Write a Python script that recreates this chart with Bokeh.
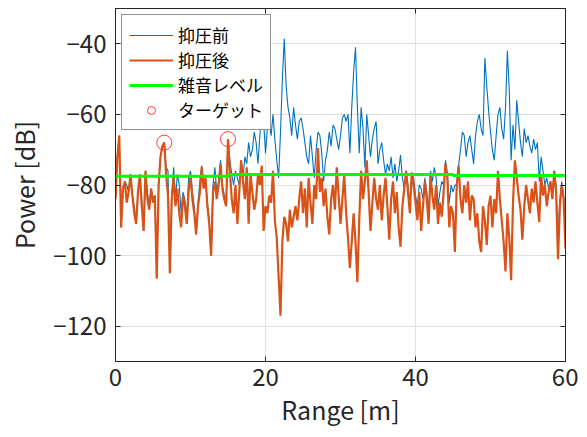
from bokeh.plotting import figure
from bokeh.models import Range1d, LinearAxis, FixedTicker, Legend, LegendItem
from bokeh.embed import file_html
from bokeh.resources import INLINE

# ---------------- data ----------------
RANGE_STEP = 0.25  # m
power_before = [  # 抑圧前 [dB]
    -84, -72, -66, -92, -81, -79, -80, -82, -77, -83,
    -86, -91, -82, -77, -84, -93, -76, -82, -86, -81,
    -84, -83, -106.5, -80, -72, -69, -68, -75, -76, -105,
    -83, -75, -84, -77, -80, -88, -82, -84, -89, -78,
    -76, -82, -86, -94, -85, -79, -74.5, -80, -78, -85,
    -90, -100, -80, -75, -82, -79, -73, -80, -83, -85,
    -67, -73, -77, -80, -76, -78, -80, -73,
    -78, -72, -74, -68, -72, -70, -65, -68, -74, -66,
    -59, -62, -71, -64, -62, -66, -60, -67, -73, -78,
    -65, -50, -38.5, -52, -58, -61, -66, -58, -63, -67,
    -62, -61, -64, -68, -72, -74, -66, -72, -78, -70,
    -65, -66, -71, -79, -73, -70, -65, -69, -63, -64,
    -67, -70, -66, -61, -60, -62, -60, -71, -58, -48,
    -41, -58, -71, -58, -64, -75, -60, -66, -72, -67,
    -64, -62, -74, -70, -68, -73, -77, -74, -76, -72,
    -78, -74, -79, -76, -71.5, -78, -81,
    -76, -80, -86, -76.5, -78, -83, -86, -80, -81, -84,
    -78, -82, -88, -76, -79, -75, -78, -86, -82, -79,
    -80, -73, -77, -85, -80, -82,
    -80, -80, -74.5, -70, -65, -66, -72, -68, -66, -70,
    -74, -66, -62, -60, -64, -66, -44, -52, -59, -65,
    -70, -73, -66, -60, -58, -64, -67, -58, -42, -53,
    -73, -63, -70, -56, -62, -68, -72, -64, -68, -66,
    -69, -71, -67, -70, -68, -79,
    -72, -76, -80, -78, -81, -79, -82, -76, -80, -95,
    -84, -79, -83, -96,
]
power_after = [  # 抑圧後 [dB]
    -84, -72, -66, -92, -81, -79, -85, -82, -77, -83,
    -88, -91, -82, -77, -86, -93, -76, -84, -87, -81,
    -85, -83, -106.5, -80, -72, -69, -68, -77, -83, -105,
    -84, -78, -86, -81, -88, -92, -83, -86, -91, -82,
    -77, -84, -88, -94, -86, -82, -75, -81, -78, -86,
    -91, -100, -82, -79, -84, -80, -74, -81, -84, -86,
    -67, -76, -84, -88, -80, -91, -82, -73, -79, -84,
    -75, -91, -77, -82, -87, -84, -77, -80, -74.5, -93,
    -86, -88, -83, -85, -76, -90, -95, -106, -117, -96,
    -89, -91, -96, -87, -92, -89, -86, -90, -84, -79,
    -88, -81, -92, -78, -85, -91, -80, -84, -69.5, -82,
    -78, -86, -81, -89, -94, -84, -80, -87, -75, -83,
    -91, -84, -77, -88, -95, -103.5, -96, -88, -96, -107.5,
    -90, -76, -84, -79, -73, -82, -93, -85, -78, -84,
    -87, -80, -90, -83, -78, -86, -95.5, -84, -79, -88,
    -82, -92, -97.5, -86, -81, -76, -82, -88, -76.5, -80,
    -85, -90, -82, -93, -86, -79, -84, -91, -77, -83,
    -87, -80, -91, -85, -89, -82, -74, -78, -92, -86,
    -88, -99, -80, -74.5, -84, -88, -80, -85, -79, -90,
    -83, -84, -92, -88, -96, -99, -86, -90, -97, -86,
    -83, -92, -84, -88, -76, -84, -90, -96, -104.5, -88,
    -95, -107, -85, -73, -78, -83, -87, -95.5, -86, -80,
    -84, -88, -81, -85, -79, -85, -90.5, -77, -83, -80,
    -86, -82, -79, -84, -76, -82, -101, -86, -80, -84,
    -98,
]
range_m = [i * RANGE_STEP for i in range(len(power_after))]

noise_edges = [0, 15, 45, 60]          # m
noise_values = [-77.5, -77.0, -77.3]   # dB

target_range = [6.5, 15.0]
target_power = [-68.0, -67.0]

x_ticks = [0, 20, 40, 60]
y_ticks = [-120, -100, -80, -60, -40]

labels = ["抑圧前", "抑圧後", "雑音レベル", "ターゲット"]

# ---------------- figure ----------------
FONT = "Noto Sans CJK JP"
p = figure(width=578, height=429, output_backend="svg", toolbar_location=None,
           x_range=Range1d(0, 60), y_range=Range1d(-130, -30),
           min_border_left=115, min_border_right=13, min_border_top=8,
           min_border_bottom=68, background_fill_color="white",
           border_fill_color="white")
p.outline_line_color = "#262626"
p.outline_line_width = 1

noise_x, noise_y = [], []
for k, v in enumerate(noise_values):
    noise_x += [noise_edges[k], noise_edges[k + 1]]
    noise_y += [v, v]

r_before = p.line(range_m, power_before, line_color="#0072BD", line_width=1.1)
r_after = p.line(range_m, power_after, line_color="#D95319", line_width=2.2)
r_noise = p.line(noise_x, noise_y, line_color="#00FF00", line_width=3)
r_target = p.scatter(target_range, target_power, marker="circle", size=15,
                     fill_color=None, line_color="#FF3A3A", line_width=1)

for ax in (p.xaxis[0], p.yaxis[0]):
    ax.axis_line_color = "#262626"
    ax.major_tick_line_color = "#262626"
    ax.major_tick_in = 5
    ax.major_tick_out = 0
    ax.minor_tick_line_color = None
    ax.major_label_text_font = FONT
    ax.major_label_text_font_size = "24px"
    ax.major_label_text_color = "#262626"
    ax.axis_label_text_font = FONT
    ax.axis_label_text_font_size = "25px"
    ax.axis_label_text_font_style = "normal"
    ax.axis_label_text_color = "#262626"

p.xaxis.ticker = FixedTicker(ticks=x_ticks)
p.yaxis.ticker = FixedTicker(ticks=y_ticks)
p.yaxis.major_label_overrides = {t: ("\u2212" + str(-t)) for t in y_ticks}
p.xaxis.axis_label = "Range [m]"
p.yaxis.axis_label = "Power [dB]"
p.xaxis.major_label_standoff = 6
p.xaxis.axis_label_standoff = 2
p.yaxis.major_label_standoff = 9
p.yaxis.axis_label_standoff = 8

for loc, ticks in (("right", y_ticks), ("above", x_ticks)):
    ax = LinearAxis(ticker=FixedTicker(ticks=ticks))
    ax.major_label_text_font_size = "0px"
    ax.major_label_standoff = 0
    ax.axis_line_color = "#262626"
    ax.major_tick_line_color = "#262626"
    ax.major_tick_in = 5
    ax.major_tick_out = 0
    ax.minor_tick_line_color = None
    p.add_layout(ax, loc)

p.xgrid.ticker = FixedTicker(ticks=x_ticks)
p.ygrid.ticker = FixedTicker(ticks=y_ticks)
p.grid.grid_line_color = "#e0e0e0"
p.grid.grid_line_width = 1

legend = Legend(items=[
    LegendItem(label=labels[0], renderers=[r_before]),
    LegendItem(label=labels[1], renderers=[r_after]),
    LegendItem(label=labels[2], renderers=[r_noise]),
    LegendItem(label=labels[3], renderers=[r_target]),
], location="top_left")
legend.label_text_font = "Roboto, 'Noto Sans CJK JP'"
legend.label_text_font_size = "17px"
legend.label_text_color = "#000000"
legend.label_text_line_height = 1.0
legend.glyph_width = 44
legend.glyph_height = 20
legend.label_height = 20
legend.spacing = 0
legend.padding = 7
legend.margin = 6
legend.label_standoff = 5
legend.border_line_color = "#262626"
legend.border_line_width = 1
legend.background_fill_alpha = 1
p.add_layout(legend)

open("out.html", "w").write(file_html(p, INLINE))
